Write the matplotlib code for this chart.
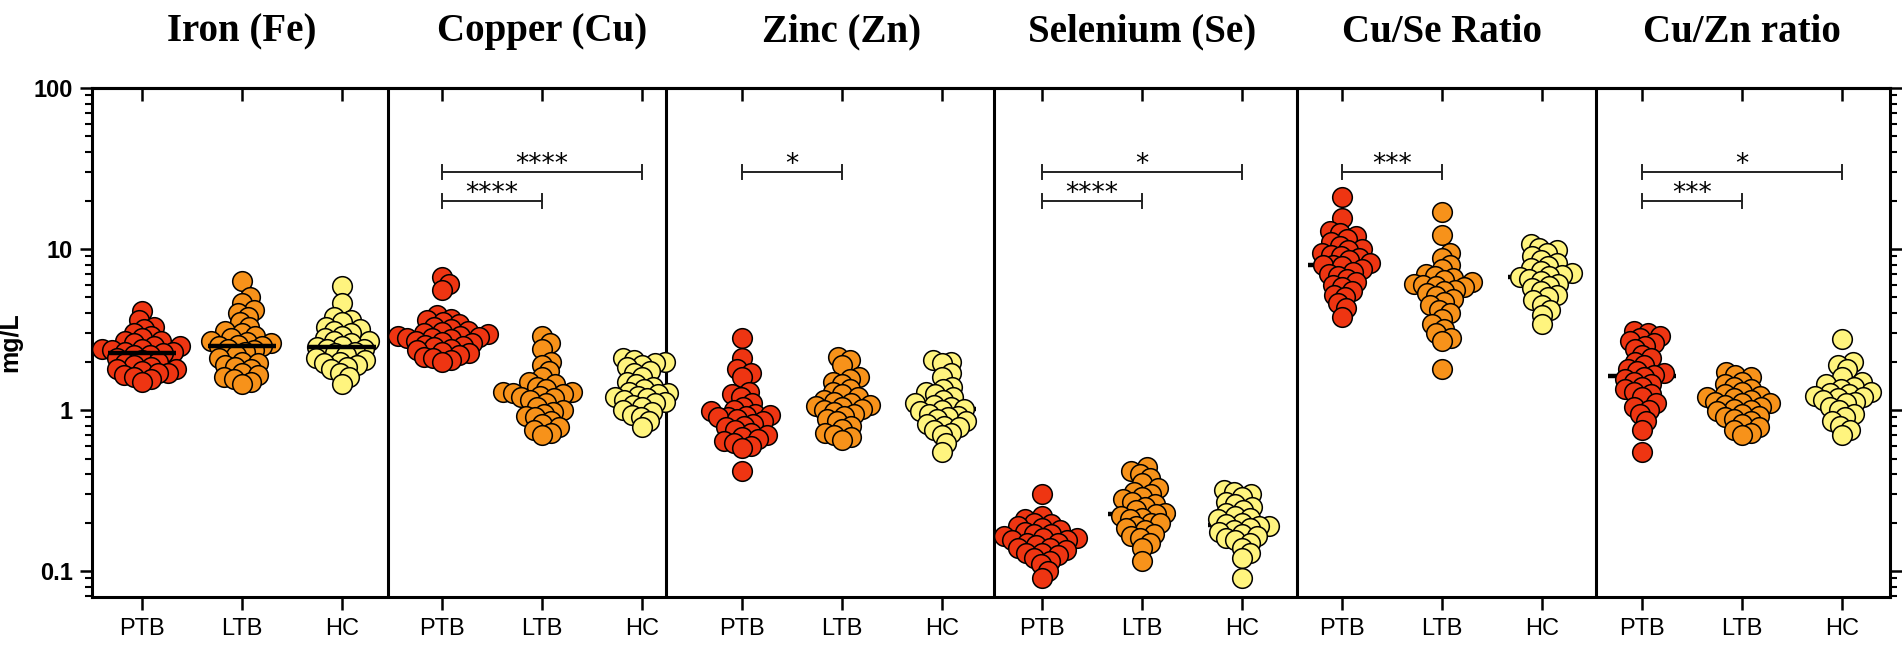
import numpy as np
import matplotlib
matplotlib.use("Agg")
import matplotlib.pyplot as plt
from matplotlib.ticker import LogLocator, NullFormatter
from matplotlib.transforms import blended_transform_factory

# ---- data (mg/L or ratio) ----
panel_titles = ["Iron (Fe)", "Copper (Cu)", "Zinc (Zn)", "Selenium (Se)", "Cu/Se Ratio", "Cu/Zn ratio"]
group_names = ["PTB", "LTB", "HC"]
group_colors = ["#EE3512", "#F7921A", "#FFF47E"]

iron_ptb = [4.1, 3.6, 3.3, 3.2, 3.0, 2.9, 2.8, 2.7, 2.7, 2.6, 2.5, 2.5, 2.4, 2.4, 2.35, 2.3, 2.3, 2.25,
            2.2, 2.2, 2.1, 2.05, 2.0, 1.95, 1.9, 1.85, 1.8, 1.8, 1.75, 1.7, 1.7, 1.65, 1.6, 1.55, 1.5]
iron_ltb = [6.3, 5.0, 4.6, 4.2, 4.0, 3.8, 3.5, 3.3, 3.1, 3.0, 2.9, 2.8, 2.7, 2.65, 2.6, 2.55, 2.5, 2.5,
            2.4, 2.35, 2.3, 2.2, 2.1, 2.0, 1.95, 1.9, 1.85, 1.8, 1.7, 1.65, 1.6, 1.55, 1.5, 1.45]
iron_hc = [5.9, 4.6, 3.8, 3.6, 3.5, 3.3, 3.2, 3.1, 3.0, 2.9, 2.8, 2.7, 2.7, 2.6, 2.5, 2.45, 2.4, 2.4,
           2.3, 2.25, 2.2, 2.1, 2.05, 2.0, 1.95, 1.9, 1.85, 1.8, 1.7, 1.6, 1.45]

copper_ptb = [6.7, 6.1, 5.6, 3.9, 3.7, 3.6, 3.5, 3.4, 3.3, 3.2, 3.1, 3.05, 3.0, 2.95, 2.9, 2.9, 2.85, 2.8,
              2.8, 2.75, 2.7, 2.65, 2.6, 2.55, 2.5, 2.45, 2.4, 2.35, 2.3, 2.25, 2.2, 2.15, 2.1, 2.05, 2.0]
copper_ltb = [2.9, 2.6, 2.4, 2.0, 1.9, 1.75, 1.6, 1.5, 1.45, 1.4, 1.35, 1.3, 1.3, 1.28, 1.25, 1.22, 1.2,
              1.18, 1.15, 1.1, 1.05, 1.0, 0.97, 0.95, 0.92, 0.9, 0.85, 0.82, 0.78, 0.75, 0.72, 0.7]
copper_hc = [2.1, 2.05, 2.0, 1.95, 1.9, 1.85, 1.75, 1.7, 1.6, 1.5, 1.45, 1.4, 1.35, 1.3, 1.28, 1.25, 1.22,
             1.2, 1.18, 1.15, 1.12, 1.1, 1.08, 1.05, 1.0, 0.97, 0.93, 0.9, 0.85, 0.78]

zinc_ptb = [2.8, 2.1, 1.8, 1.7, 1.6, 1.3, 1.25, 1.2, 1.1, 1.05, 1.0, 0.98, 0.95, 0.93, 0.92, 0.9, 0.9,
            0.88, 0.85, 0.82, 0.8, 0.78, 0.75, 0.72, 0.7, 0.68, 0.66, 0.64, 0.62, 0.6, 0.58, 0.42]
zinc_ltb = [2.15, 2.05, 1.9, 1.6, 1.55, 1.5, 1.45, 1.35, 1.3, 1.25, 1.2, 1.15, 1.12, 1.1, 1.08, 1.06, 1.05,
            1.02, 1.0, 0.97, 0.95, 0.92, 0.88, 0.85, 0.8, 0.76, 0.72, 0.7, 0.68, 0.65]
zinc_hc = [2.05, 2.0, 1.95, 1.7, 1.6, 1.4, 1.35, 1.3, 1.25, 1.2, 1.15, 1.1, 1.08, 1.05, 1.02, 1.0, 0.98,
           0.95, 0.92, 0.9, 0.88, 0.85, 0.82, 0.8, 0.78, 0.75, 0.72, 0.7, 0.62, 0.55]

selenium_ptb = [0.30, 0.22, 0.21, 0.2, 0.195, 0.19, 0.185, 0.18, 0.175, 0.17, 0.17, 0.165, 0.16, 0.16, 0.155,
                0.155, 0.15, 0.15, 0.145, 0.14, 0.14, 0.135, 0.13, 0.13, 0.125, 0.12, 0.115, 0.11, 0.1, 0.09]
selenium_ltb = [0.44, 0.42, 0.40, 0.38, 0.35, 0.33, 0.31, 0.3, 0.29, 0.28, 0.27, 0.26, 0.25, 0.24, 0.23,
                0.225, 0.22, 0.215, 0.21, 0.2, 0.2, 0.19, 0.185, 0.18, 0.17, 0.165, 0.16, 0.15, 0.14, 0.115]
selenium_hc = [0.32, 0.31, 0.3, 0.29, 0.27, 0.26, 0.25, 0.24, 0.23, 0.22, 0.215, 0.21, 0.2, 0.195, 0.19,
               0.19, 0.185, 0.18, 0.175, 0.17, 0.165, 0.16, 0.155, 0.15, 0.14, 0.13, 0.12, 0.09]

cuse_ptb = [21, 15.5, 13, 12.5, 12, 11.5, 11, 10.5, 10, 9.8, 9.5, 9.2, 9, 8.8, 8.5, 8.2, 8, 8, 7.8, 7.5,
            7.2, 7, 6.8, 6.5, 6.2, 6, 5.8, 5.5, 5.2, 5, 4.6, 4.3, 3.8]
cuse_ltb = [17, 12.2, 9.5, 8.8, 8, 7.5, 7, 6.8, 6.6, 6.4, 6.2, 6.1, 6, 5.9, 5.8, 5.6, 5.5, 5.3, 5.1, 4.9,
            4.7, 4.5, 4.2, 4.0, 3.7, 3.4, 3.2, 3.0, 2.8, 2.7, 1.8]
cuse_hc = [10.8, 10.2, 9.8, 9.5, 9, 8.6, 8.2, 7.9, 7.6, 7.3, 7.1, 6.9, 6.8, 6.7, 6.5, 6.3, 6.1, 5.9, 5.7,
           5.5, 5.2, 5, 4.8, 4.5, 4.2, 3.9, 3.4]

cuzn_ptb = [3.1, 3.0, 2.9, 2.8, 2.7, 2.6, 2.5, 2.4, 2.2, 2.1, 2.0, 1.9, 1.8, 1.75, 1.7, 1.65, 1.6, 1.55,
            1.5, 1.45, 1.4, 1.35, 1.3, 1.25, 1.2, 1.1, 1.05, 1.0, 0.95, 0.85, 0.75, 0.55]
cuzn_ltb = [1.72, 1.65, 1.6, 1.5, 1.45, 1.4, 1.35, 1.3, 1.25, 1.22, 1.2, 1.18, 1.15, 1.12, 1.1, 1.1, 1.08,
            1.05, 1.02, 1.0, 0.98, 0.95, 0.92, 0.9, 0.88, 0.85, 0.82, 0.78, 0.75, 0.72, 0.7]
cuzn_hc = [2.75, 2.0, 1.9, 1.8, 1.6, 1.5, 1.45, 1.4, 1.35, 1.3, 1.28, 1.25, 1.22, 1.2, 1.18, 1.15, 1.12,
           1.1, 1.05, 1.0, 0.95, 0.9, 0.85, 0.8, 0.75, 0.7]

panel_data = [
    [iron_ptb, iron_ltb, iron_hc],
    [copper_ptb, copper_ltb, copper_hc],
    [zinc_ptb, zinc_ltb, zinc_hc],
    [selenium_ptb, selenium_ltb, selenium_hc],
    [cuse_ptb, cuse_ltb, cuse_hc],
    [cuzn_ptb, cuzn_ltb, cuzn_hc],
]

# significance: (panel, group a, group b, bracket level, stars)
sig_panel = [1, 1, 2, 3, 3, 4, 5, 5]
sig_from = [0, 0, 0, 0, 0, 0, 0, 0]
sig_to = [2, 1, 1, 2, 1, 1, 2, 1]
sig_level = [30, 20, 30, 30, 20, 30, 30, 20]
sig_stars = ["****", "****", "*", "*", "****", "***", "*", "***"]

# ---- layout ----
W, H = 1902, 647
fig = plt.figure(figsize=(W / 100, H / 100), dpi=100)
ax = fig.add_axes([92 / W, 1 - 597 / H, (1890 - 92) / W, (597 - 88) / H])

n_groups = len(group_names)
n_pos = len(panel_titles) * n_groups
dividers = [2.46, 5.24, 8.52, 11.55, 14.54]

ax.set_yscale("log")
ax.set_xlim(-0.5, n_pos - 0.52)
ax.set_ylim(0.069, 100)

for s in ax.spines.values():
    s.set_linewidth(2.2)
for xd in dividers:
    ax.axvline(xd, color="black", lw=2.2, zorder=1)


# beeswarm offsets in pixel space (points allowed to overlap, like the original)
def swarm(ypix, d):
    xs = np.zeros(len(ypix))
    px, py = [], []
    for i in np.argsort(ypix):
        y = ypix[i]
        cands = [0.0]
        for a, b in zip(px, py):
            dy = abs(y - b)
            if dy < d:
                dx = np.sqrt(d * d - dy * dy)
                cands += [a + dx, a - dx]
        cands.sort(key=abs)
        for c in cands:
            if all((c - a) ** 2 + (y - b) ** 2 >= d * d - 1e-6 for a, b in zip(px, py)):
                break
        xs[i] = c
        px.append(c)
        py.append(y)
    return xs


x_unit = ax.transData.transform((1, 1))[0] - ax.transData.transform((0, 1))[0]
for p, groups in enumerate(panel_data):
    # the iron medians sit on top of the dots, the others are partly hidden
    med_z = 4 if p == 0 else 2.5
    for g, vals in enumerate(groups):
        xc = p * n_groups + g
        v = np.array(vals, dtype=float)
        ypix = ax.transData.transform(np.column_stack([np.zeros_like(v), v]))[:, 1]
        off = swarm(ypix, 9.5) / x_unit
        ax.scatter(xc + off, v, s=200, color=group_colors[g], edgecolor="black",
                   linewidth=1.1, zorder=3)
        ax.hlines(np.median(v), xc - 0.34, xc + 0.34, color="black", lw=3.2, zorder=med_z)

# significance brackets
dec_px = ax.transData.transform((0, 10))[1] - ax.transData.transform((0, 1))[1]
cap = 10 ** (7 / dec_px)
for p, a, b, lev, st in zip(sig_panel, sig_from, sig_to, sig_level, sig_stars):
    xa, xb = p * n_groups + a, p * n_groups + b
    ax.plot([xa, xb], [lev, lev], color="#222222", lw=1.4, zorder=2)
    for xe in (xa, xb):
        ax.plot([xe, xe], [lev / cap, lev * cap], color="#222222", lw=1.4, zorder=2)
    ax.annotate(st, ((xa + xb) / 2, lev), xytext=(0, 0), textcoords="offset points",
                ha="center", va="baseline", fontsize=19, family="DejaVu Sans")

# ticks
ax.set_xticks(range(n_pos))
ax.set_xticklabels(group_names * len(panel_titles), fontsize=17, family="Liberation Sans")
ax.tick_params(axis="x", direction="out", length=9, width=1.8, pad=6)
top = ax.secondary_xaxis("top")
top.set_xticks(range(n_pos))
top.tick_params(direction="in", length=9, width=1.8, labeltop=False)
top.spines["top"].set_linewidth(2.2)

ax.set_yticks([0.1, 1, 10, 100])
ax.set_yticklabels(["0.1", "1", "10", "100"], fontsize=17, fontweight="bold", family="Liberation Sans")
ax.yaxis.set_minor_locator(LogLocator(base=10, subs=np.arange(2, 10)))
ax.yaxis.set_minor_formatter(NullFormatter())
ax.tick_params(axis="y", which="major", direction="out", length=9, width=1.8, pad=5,
               left=True, right=True)
ax.tick_params(axis="y", which="minor", direction="out", length=5, width=1.5, left=True, right=True)

ax.set_ylabel("mg/L", fontsize=18, fontweight="bold", family="Liberation Sans")
ax.yaxis.set_label_coords((22 - 92) / (1890 - 92), 0.5)

# panel titles centred over the middle group
tr = blended_transform_factory(ax.transData, fig.transFigure)
for p, t in enumerate(panel_titles):
    ax.text(p * n_groups + 1, 1 - 32 / H, t, transform=tr, ha="center", va="center",
            fontsize=28, fontweight="bold", family="Liberation Serif")

fig.savefig("out.png", dpi=100)
